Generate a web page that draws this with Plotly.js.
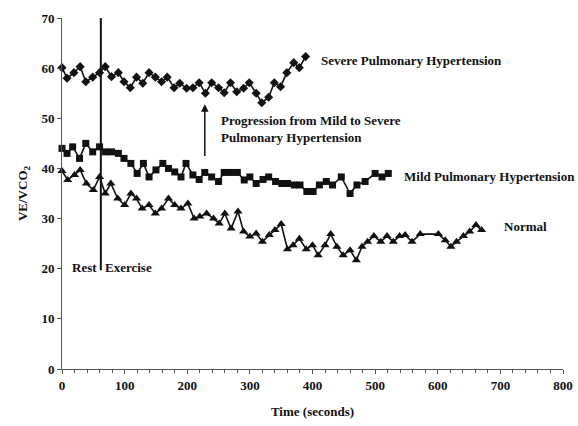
<!DOCTYPE html>
<html>
<head>
<meta charset="utf-8">
<script src="https://cdn.plot.ly/plotly-3.0.1.min.js"></script>
<style>html,body{margin:0;padding:0;background:#fff;}#chart{width:578px;height:426px;}</style>
</head>
<body>
<div id="chart"></div>
<script>
// ---- Data ----
const severeTime = [0,8,19,29,38,49,60,69,79,90,99,109,119,129,139,149,159,168,179,188,199,209,219,229,239,250,259,269,279,290,299,310,319,330,339,349,359,370,379,389];
const severeVE   = [60.1,58,59.1,60.3,57.3,58.2,59.1,60.3,58.3,59.1,57.3,56.1,58.2,57,59.1,58.2,57.3,58.2,56.1,57,56,56.1,57.1,55,57.1,56.1,55.1,57.1,55.3,56,57.1,55,53.1,54.2,57.1,56.3,59.1,61.1,60.1,62.3];

const mildTime = [0,8,17,28,38,49,60,69,79,90,99,110,120,130,139,150,161,170,180,190,198,209,219,228,239,250,259,269,280,291,300,310,321,330,341,351,360,371,380,391,401,411,422,432,446,460,471,484,500,511,521];
const mildVE   = [44,43,44.3,42,45,43.3,44.3,43.3,43.3,43,42,41,39,41,38.3,39.7,41,40,39.3,38.3,41,38.7,37.8,39.2,38.3,37.4,39.2,39.2,39.2,37.7,38.3,37,37.8,38.3,37.4,37,37,36.7,36.7,35.4,35.4,36.7,37.4,36.7,38.3,35,36.7,37.4,39,38.3,39];

const normalTime = [0,9,20,29,39,50,60,69,78,89,100,110,119,128,139,149,159,170,180,190,201,211,220,231,242,251,260,270,281,290,300,310,320,331,340,350,360,369,379,390,400,409,420,429,439,449,460,470,479,488,498,509,519,529,539,548,559,572,601,612,621,630,641,651,661,670];
const normalVE   = [39.5,37.7,38.7,39.7,37,35.7,38.3,35,37,34,32.7,35,34,32,32.7,31,32,34,32.7,32,33,30,30.4,31,30,29,31,28,31.4,27.4,26.4,27,25.4,26.7,27.7,28.9,23.9,24.7,26,23.9,24.7,22.7,24.7,26.9,24.4,22.7,23.7,21.7,24.4,25.4,26.5,25.4,26.5,25.4,26.5,26.7,25.4,26.9,26.9,25.7,24.4,25.4,26.5,27.4,28.7,27.7];

const seriesNames = ["Severe Pulmonary Hypertension", "Mild Pulmonary Hypertension", "Normal"];
const xTickValues = [0,100,200,300,400,500,600,700,800];
const yTickValues = [0,10,20,30,40,50,60,70];
const restExerciseTime = 62;

// ---- Chart ----
const ink = "#111111";
const serif = "Liberation Serif, Times New Roman, serif";

function series(x, y, name, symbol, size) {
  return {
    x: x, y: y, name: name, type: "scatter", mode: "lines+markers",
    line: {color: ink, width: 1.6},
    marker: {symbol: symbol, size: size, color: ink},
    showlegend: false, cliponaxis: false
  };
}

const traces = [
  series(severeTime, severeVE, seriesNames[0], "diamond", 7),
  series(mildTime, mildVE, seriesNames[1], "square", 7),
  series(normalTime, normalVE, seriesNames[2], "triangle-up", 8)
];

const lbl = {family: serif, size: 13, color: ink, weight: "bold"};

const layout = {
  width: 578, height: 426,
  margin: {l: 62, r: 15, t: 18, b: 57},
  paper_bgcolor: "#fff", plot_bgcolor: "#fff",
  font: {family: serif, color: ink},
  xaxis: {
    range: [0, 800], tickvals: xTickValues, ticktext: xTickValues.map(String),
    showgrid: false, zeroline: false, showline: true, linecolor: "#555", linewidth: 1,
    ticks: "outside", ticklen: 4, tickcolor: "#555",
    minor: {dtick: 20, tick0: 0, ticks: "outside", ticklen: 3, tickcolor: "#555", showgrid: false},
    tickfont: {family: serif, size: 13, color: ink, weight: "bold"},
    title: {text: "Time (seconds)", font: {family: serif, size: 13, color: ink, weight: "bold"}, standoff: 15}
  },
  yaxis: {
    range: [0, 70], tickvals: yTickValues, ticktext: yTickValues.map(String),
    showgrid: false, zeroline: false, showline: true, linecolor: "#555", linewidth: 1,
    ticks: "outside", ticklen: 4, tickcolor: "#555",
    tickfont: {family: serif, size: 13, color: ink, weight: "bold"},
    title: {text: "VE/VCO<sub>2</sub>", font: {family: serif, size: 13, color: ink, weight: "bold"}, standoff: 10}
  },
  shapes: [{
    type: "line", xref: "x", yref: "y",
    x0: restExerciseTime, x1: restExerciseTime, y0: 19.7, y1: 72,
    line: {color: ink, width: 2}
  }],
  annotations: [
    {x: 410, y: 61.6, xref: "x", yref: "y", text: seriesNames[0], showarrow: false, xanchor: "left", font: lbl},
    {x: 543, y: 38.3, xref: "x", yref: "y", text: seriesNames[1], showarrow: false, xanchor: "left", font: lbl},
    {x: 703, y: 28.5, xref: "x", yref: "y", text: seriesNames[2], showarrow: false, xanchor: "left", font: lbl},
    {x: 251, y: 47.8, xref: "x", yref: "y", text: "Progression from Mild to Severe<br>Pulmonary Hypertension", showarrow: false, xanchor: "left", align: "left", font: lbl},
    {x: restExerciseTime - 3, y: 20.3, xref: "x", yref: "y", text: "Rest", showarrow: false, xanchor: "right", font: lbl},
    {x: restExerciseTime + 4, y: 20.3, xref: "x", yref: "y", text: "Exercise", showarrow: false, xanchor: "left", font: lbl},
    {x: 228, y: 52.8, ax: 228, ay: 42.2, xref: "x", yref: "y", axref: "x", ayref: "y", text: "", showarrow: true, arrowhead: 2, arrowsize: 1, arrowwidth: 1.5, arrowcolor: ink}
  ]
};

Plotly.newPlot("chart", traces, layout, {displayModeBar: false, staticPlot: true});
</script>
</body>
</html>
